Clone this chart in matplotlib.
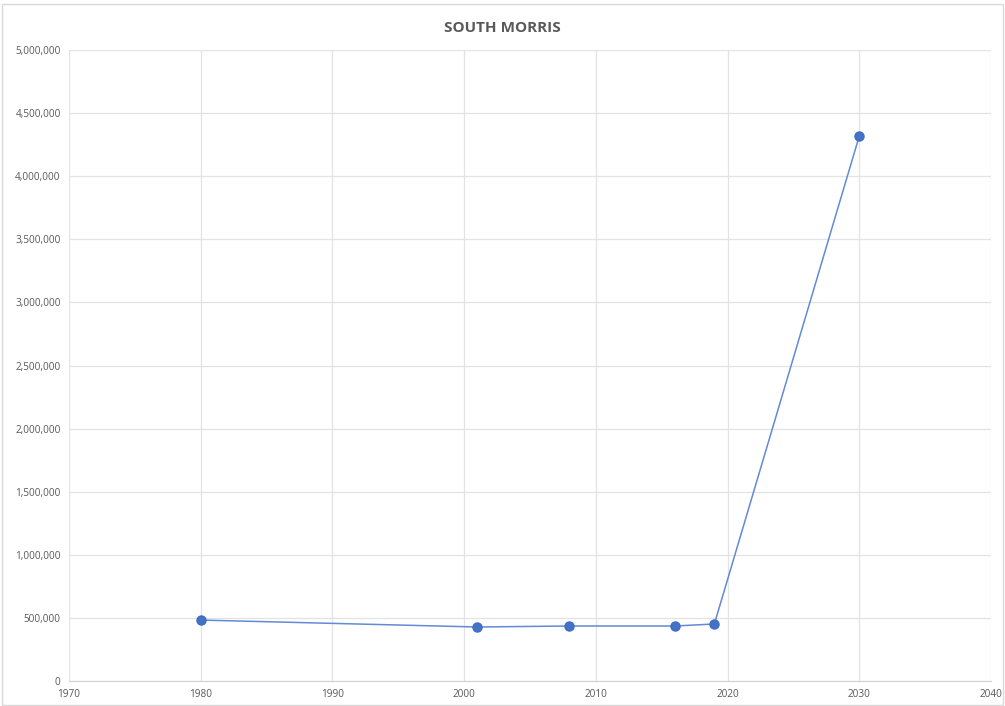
import matplotlib.pyplot as plt
from matplotlib.ticker import FuncFormatter, MultipleLocator
from matplotlib.patches import Rectangle

# South Morris series
years = [1980, 2001, 2008, 2016, 2019, 2030]
values = [483000, 428000, 436000, 436000, 452000, 4318000]

text_gray = "#595959"
grid_gray = "#e3e3e3"

plt.rcParams["font.family"] = ["Open Sans", "DejaVu Sans"]

fig = plt.figure(figsize=(10.05, 7.06), dpi=100)
ax = fig.add_axes([0.0687, 0.0354, 0.9173, 0.8936])

ax.plot(years, values, color="#6489d6", linewidth=1.1, marker="o",
        markersize=6.5, markerfacecolor="#4472C4", markeredgecolor="#3f6ccb",
        zorder=3)

ax.set_xlim(1970, 2040)
ax.set_ylim(0, 5000000)
ax.xaxis.set_major_locator(MultipleLocator(10))
ax.yaxis.set_major_locator(MultipleLocator(500000))
ax.yaxis.set_major_formatter(FuncFormatter(lambda v, p: f"{int(v):,}"))

ax.grid(True, color=grid_gray, linewidth=0.9)
ax.set_axisbelow(True)
for side in ["top", "right", "left"]:
    ax.spines[side].set_visible(False)
ax.spines["bottom"].set_color("#d0d0d0")
ax.tick_params(length=0, labelsize=7.2, colors=text_gray, pad=6)

fig.text(0.5, 0.96, "SOUTH MORRIS", ha="center", va="center",
         fontsize=11, fontweight="bold", color=text_gray)

# thin chart-area border
fig.patches.append(Rectangle((0.002, 0.002), 0.996, 0.993, transform=fig.transFigure,
                             fill=False, edgecolor="#d9d9d9", linewidth=1))

fig.savefig("out.png", dpi=100)
